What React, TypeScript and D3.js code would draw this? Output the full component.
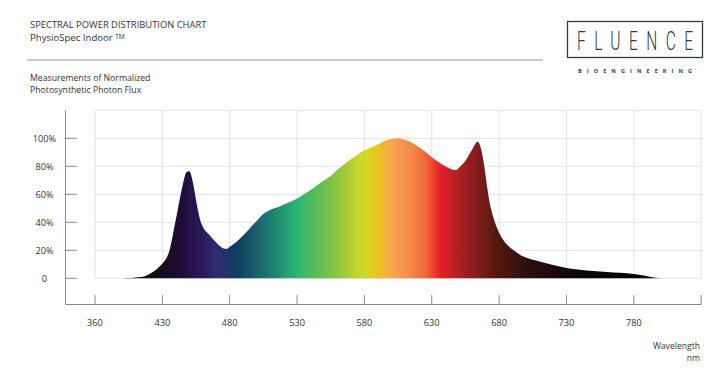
import React from "react";
import * as d3 from "d3";

// ---- data ----
const tickWavelengths = [360, 430, 480, 530, 580, 630, 680, 730, 780, 830];
const tickLabels = ["360", "430", "480", "530", "580", "630", "680", "730", "780"];
const yTicks = [0, 20, 40, 60, 80, 100];
const yTickLabels = ["0", "20%", "40%", "60%", "80%", "100%"];
const gridY = [0, 20, 40, 60, 80, 100, 120];

const wavelengths = [
  385, 390, 395, 400, 405, 410, 415, 420, 425, 430, 435, 440, 445, 448, 450, 453, 455, 458, 460,
  465, 470, 475, 478, 480, 485, 490, 495, 500, 505, 510, 515, 520, 525, 530, 535, 540, 545, 550,
  555, 560, 565, 570, 575, 580, 585, 590, 595, 600, 605, 610, 615, 620, 625, 630, 635, 640, 645,
  648, 650, 655, 660, 664, 667, 669, 671, 673, 675, 678, 682, 686, 690, 698, 705, 710, 720, 730,
  740, 750, 760, 770, 780, 785, 790, 795, 800,
];
const photonFlux = [
  0, 0.1, 0.2, 0.4, 0.7, 1.1, 2.5, 4.5, 7, 10.5, 19, 42, 66, 76, 76.5, 67, 56, 42, 37,
  31, 25.5, 21.5, 21, 22.5, 26, 30.5, 35.7, 41, 46, 48.8, 50.5, 52.5, 54.7, 57, 60, 63, 66.5, 69.8,
  73, 77.5, 81.5, 85, 88.5, 91.5, 93.5, 95.5, 98, 99.5, 100, 99, 97, 94, 90.5, 86.5, 83, 80, 77.8,
  77.3, 78.8, 84, 92, 97.6, 91, 80, 66, 54, 46, 37, 29, 24, 20.5, 15.5, 13.2, 12, 9.5, 7.4,
  6.1, 5.2, 4.5, 3.9, 3.1, 2.4, 1.5, 0.6, 0,
];

const gradientNm = [
  395, 430, 445, 460, 470, 485, 500, 515, 530, 545, 560, 575, 582, 590, 600, 615, 625, 630, 636,
  648, 660, 676, 700, 730, 760,
];
const gradientColors = [
  "#0a0a0a", "#150d17", "#200c38", "#2a1b5c", "#302c72", "#0f3d5d", "#1a5f6e", "#1f8a70",
  "#2bb673", "#5dbb55", "#8dc53f", "#c4d52a", "#d4d823", "#efc21d", "#f6a650", "#f4884a",
  "#f06a3c", "#ee4a30", "#e8202a", "#b52126", "#8c1d1e", "#5a1a10", "#2d0f0d", "#120808",
  "#050505",
];

// ---- layout ----
const W = 708;
const H = 375;
const gridLeft = 95;
const gridStep = 67.35;
const y0 = 278.3;
const yTop = 110.3;
const axisX = 65.5;
const axisY = 304.5;
const gridRight = gridLeft + gridStep * (tickWavelengths.length - 1);

const FONT = "'Open Sans', 'DejaVu Sans', sans-serif";

export default function App() {
  const x = d3
    .scaleLinear()
    .domain(tickWavelengths)
    .range(tickWavelengths.map((_, i) => gridLeft + i * gridStep));
  const y = d3.scaleLinear().domain([0, 120]).range([y0, yTop]);

  const pts = wavelengths.map((w, i) => [w, photonFlux[i]] as [number, number]);
  const area = d3
    .area<[number, number]>()
    .x((d) => x(d[0]))
    .y0(y(0))
    .y1((d) => y(d[1]))
    .curve(d3.curveMonotoneX);

  const gx1 = x(gradientNm[0]);
  const gx2 = x(gradientNm[gradientNm.length - 1]);
  const logoScale = 0.62;

  return (
    <svg
      width={W}
      height={H}
      style={{ position: "absolute", left: 0, top: 0, background: "#fff" }}
      fontFamily={FONT}
    >
      <defs>
        <linearGradient id="spec" gradientUnits="userSpaceOnUse" x1={gx1} x2={gx2} y1={0} y2={0}>
          {gradientNm.map((nm, i) => (
            <stop
              key={i}
              offset={(x(nm) - gx1) / (gx2 - gx1)}
              stopColor={gradientColors[i]}
            />
          ))}
        </linearGradient>
      </defs>

      {/* header */}
      <text x={30} y={28} fontSize={9.4} fill="#333">
        SPECTRAL POWER DISTRIBUTION CHART
      </text>
      <text x={30} y={41} fontSize={9.6} fill="#333">
        PhysioSpec Indoor <tspan fontSize={6.5} dy={-2.5}>TM</tspan>
      </text>
      <line x1={27} x2={543} y1={60} y2={60} stroke="#9a9a9a" strokeWidth={1.2} />
      <text x={30} y={81} fontSize={8.7} fill="#333">
        Measurements of Normalized
      </text>
      <text x={30} y={93} fontSize={8.7} fill="#333">
        Photosynthetic Photon Flux
      </text>

      {/* logo */}
      <rect x={567.5} y={21.5} width={135} height={36} fill="none" stroke="#2f3c46" strokeWidth={1.3} />
      <g transform={`translate(635,50) scale(${logoScale},1)`}>
        <text
          x={0}
          y={0}
          textAnchor="middle"
          fontSize={25}
          fontWeight={300}
          fill="#2f3c46"
          fontFamily="'Roboto', 'DejaVu Sans', sans-serif"
          textLength={116 / logoScale}
          lengthAdjust="spacing"
        >
          FLUENCE
        </text>
      </g>
      <text
        x={635}
        y={73}
        textAnchor="middle"
        fontSize={5.5}
        fontWeight={700}
        fill="#2f3c46"
        textLength={114}
        lengthAdjust="spacing"
      >
        BIOENGINEERING
      </text>

      {/* grid */}
      {gridY.map((v) => (
        <line key={"gy" + v} x1={gridLeft} x2={gridRight} y1={y(v)} y2={y(v)} stroke="#e4e4e4" strokeWidth={1} />
      ))}
      {tickWavelengths.map((w) => (
        <line key={"gx" + w} x1={x(w)} x2={x(w)} y1={y(120)} y2={y(0)} stroke="#e4e4e4" strokeWidth={1} />
      ))}

      {/* spectrum */}
      <path d={area(pts) ?? ""} fill="url(#spec)" />

      {/* axes */}
      <line x1={axisX} x2={axisX} y1={yTop} y2={axisY} stroke="#8a8a8a" strokeWidth={1} />
      <line x1={axisX} x2={gridRight} y1={axisY} y2={axisY} stroke="#8a8a8a" strokeWidth={1} />
      {yTicks.map((v, i) => (
        <g key={"yt" + v}>
          <line x1={axisX} x2={77} y1={y(v)} y2={y(v)} stroke="#8a8a8a" strokeWidth={1} />
          <text x={44.5} y={y(v)} dy="0.35em" textAnchor="middle" fontSize={9.2} fill="#333">
            {yTickLabels[i]}
          </text>
        </g>
      ))}
      {tickLabels.map((lab, i) => (
        <g key={"xt" + lab}>
          <line
            x1={x(tickWavelengths[i])}
            x2={x(tickWavelengths[i])}
            y1={295}
            y2={axisY}
            stroke="#8a8a8a"
            strokeWidth={1}
          />
          <text x={x(tickWavelengths[i])} y={323} dy="0.35em" textAnchor="middle" fontSize={9.2} fill="#333">
            {lab}
          </text>
        </g>
      ))}
      <line x1={gridRight} x2={gridRight} y1={295} y2={axisY} stroke="#8a8a8a" strokeWidth={1} />

      <text x={700} y={349} textAnchor="end" fontSize={8.6} fill="#333">
        Wavelength
      </text>
      <text x={700} y={361} textAnchor="end" fontSize={8.6} fill="#333">
        nm
      </text>
    </svg>
  );
}
